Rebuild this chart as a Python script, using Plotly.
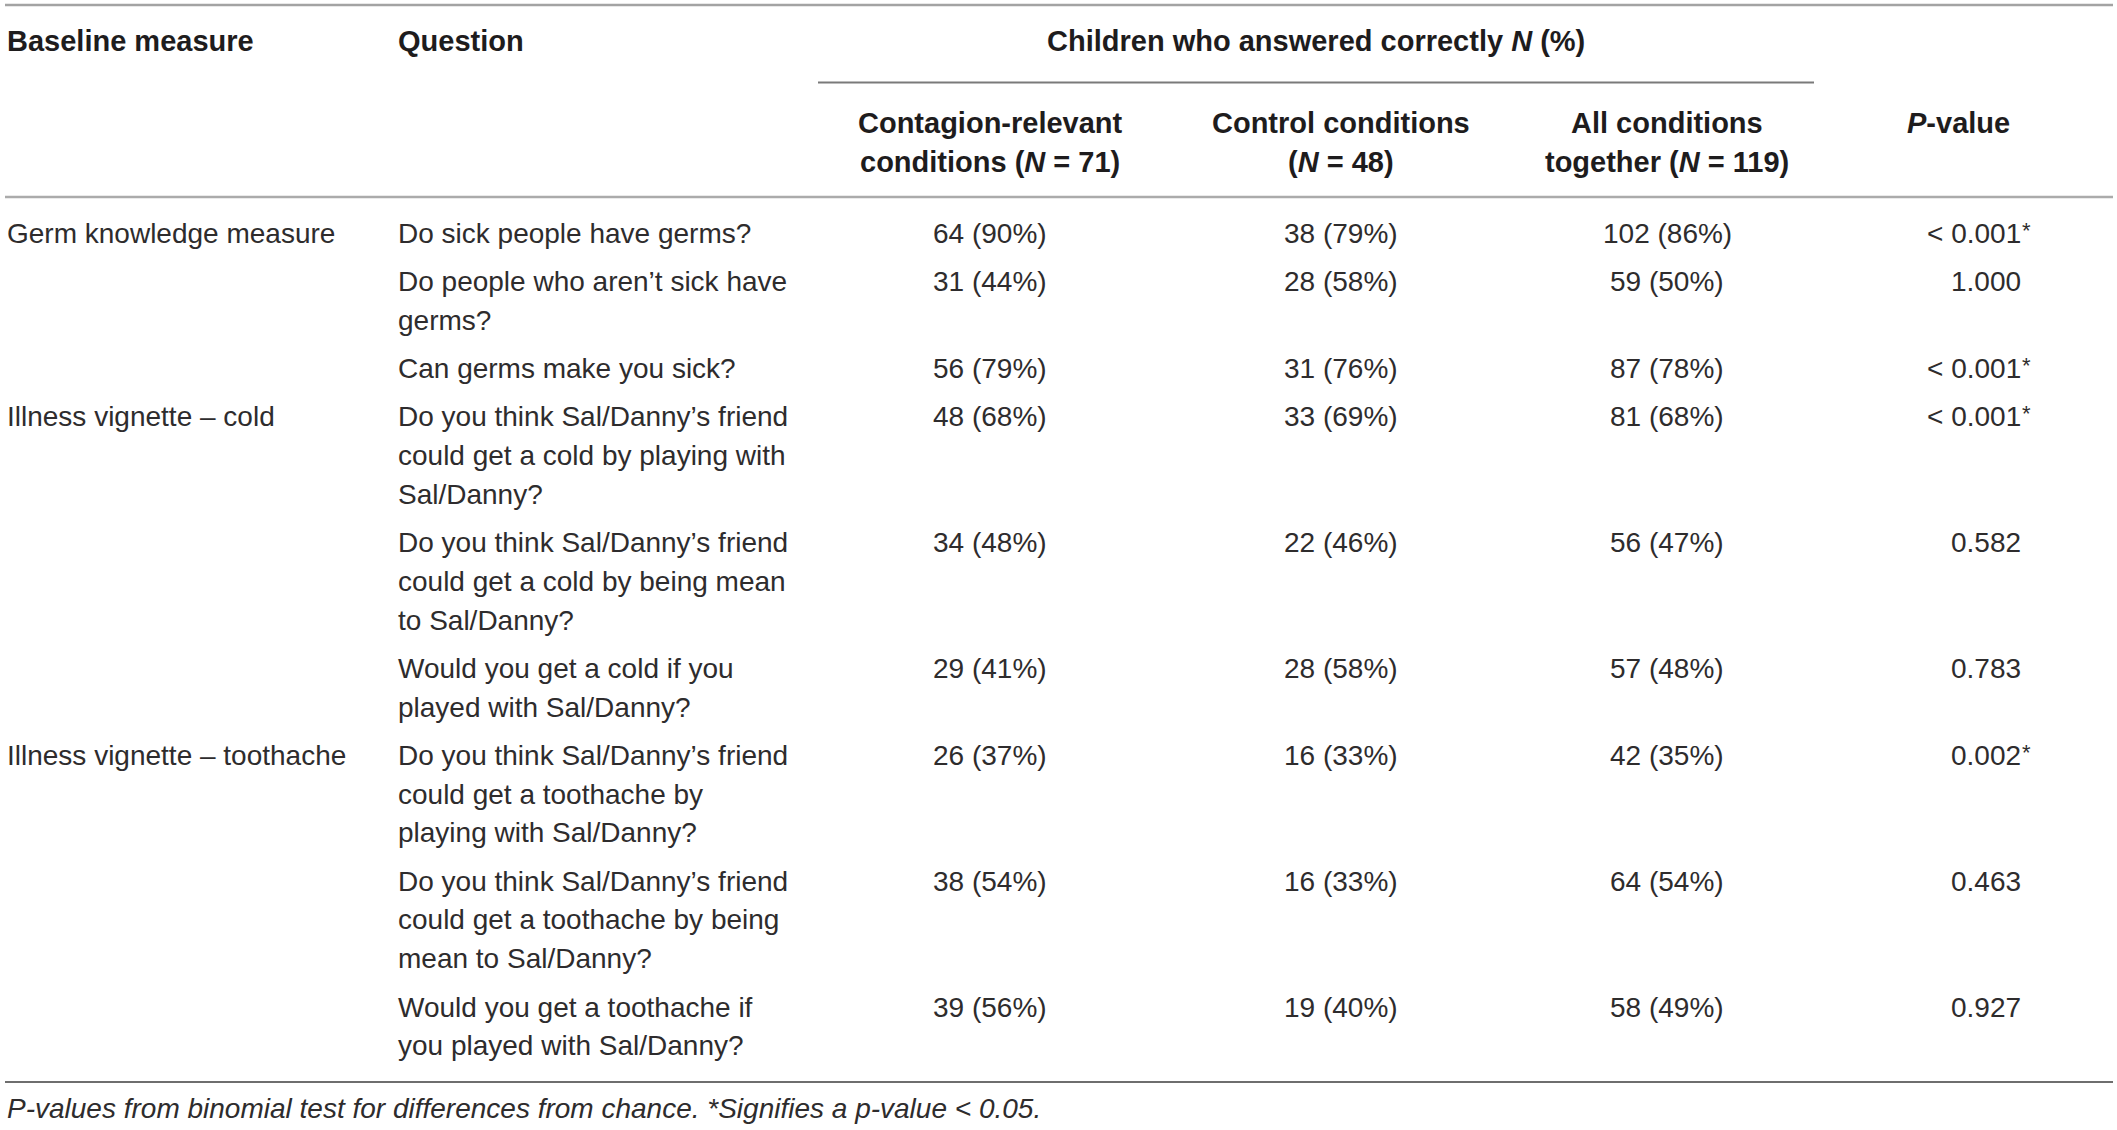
import plotly.graph_objects as go

# table content
measures = ["Germ knowledge measure", "", "", "Illness vignette – cold", "", "",
            "Illness vignette – toothache", "", ""]
questions = [
    "Do sick people have germs?",
    "Do people who aren’t sick have\ngerms?",
    "Can germs make you sick?",
    "Do you think Sal/Danny’s friend\ncould get a cold by playing with\nSal/Danny?",
    "Do you think Sal/Danny’s friend\ncould get a cold by being mean\nto Sal/Danny?",
    "Would you get a cold if you\nplayed with Sal/Danny?",
    "Do you think Sal/Danny’s friend\ncould get a toothache by\nplaying with Sal/Danny?",
    "Do you think Sal/Danny’s friend\ncould get a toothache by being\nmean to Sal/Danny?",
    "Would you get a toothache if\nyou played with Sal/Danny?",
]
contagion = ["64 (90%)", "31 (44%)", "56 (79%)", "48 (68%)", "34 (48%)", "29 (41%)",
             "26 (37%)", "38 (54%)", "39 (56%)"]
control = ["38 (79%)", "28 (58%)", "31 (76%)", "33 (69%)", "22 (46%)", "28 (58%)",
           "16 (33%)", "16 (33%)", "19 (40%)"]
all_conditions = ["102 (86%)", "59 (50%)", "87 (78%)", "81 (68%)", "56 (47%)", "57 (48%)",
                  "42 (35%)", "64 (54%)", "58 (49%)"]
p_values = ["< 0.001*", "1.000", "< 0.001*", "< 0.001*", "0.582", "0.783",
            "0.002*", "0.463", "0.927"]

header_top = ["Baseline measure", "Question", "Children who answered correctly <i>N</i> (%)"]
header_sub = [("Contagion-relevant", "conditions (<i>N</i> = 71)"),
              ("Control conditions", "(<i>N</i> = 48)"),
              ("All conditions", "together (<i>N</i> = 119)")]
header_p = "<i>P</i>-value"
footnote = ("P-values from binomial test for differences from chance. "
            "*Signifies a p-value &lt; 0.05.")

W, H = 2117, 1130
FONT = "Liberation Sans, Arial, Helvetica, sans-serif"
TXT = "#2e2c2d"
SIZE = 28
BOLD = 29
LINE = 38.67
GAP = 9.75
Y0 = 233

col_x = [5, 396, 990, 1341, 1667]
p_right = 2023
p_center = 1958

fig = go.Figure()
anns = []


def add(x, y, text, anchor="left", size=SIZE, color=TXT):
    anns.append(dict(x=x, y=y, xref="x", yref="y", text=text, showarrow=False,
                     xanchor=anchor, yanchor="middle", align=anchor,
                     font=dict(family=FONT, size=size, color=color)))


def bold(x, y, text, anchor="left"):
    add(x, y, "<b>" + text + "</b>", anchor, size=BOLD, color="#1e1c1d")


# header
bold(col_x[0], 41, header_top[0])
bold(col_x[1], 41, header_top[1])
bold(1316, 41, header_top[2], "center")
for i, (top, bottom) in enumerate(header_sub):
    bold(col_x[2 + i], 123, top, "center")
    bold(col_x[2 + i], 162, bottom, "center")
bold(p_center, 123, header_p, "center")

# body
y = Y0
for i in range(len(questions)):
    lines = questions[i].split("\n")
    if measures[i]:
        add(col_x[0], y, measures[i])
    for k, line in enumerate(lines):
        add(col_x[1], y + k * LINE, line)
    add(col_x[2], y, contagion[i], "center")
    add(col_x[3], y, control[i], "center")
    add(col_x[4], y, all_conditions[i], "center")
    pv = p_values[i]
    add(p_right, y, pv.rstrip("*"), "right")
    if pv.endswith("*"):
        add(p_right - 3, y - 3, "*", "left", size=22)
    y += len(lines) * LINE + GAP

add(col_x[0], 1108, "<i>" + footnote + "</i>")

# rules
shapes = [
    dict(type="line", x0=5, x1=2113, y0=5, y1=5, line=dict(color="#a3a3a3", width=2.5)),
    dict(type="line", x0=818, x1=1814, y0=82.5, y1=82.5, line=dict(color="#7a7a7a", width=2)),
    dict(type="line", x0=5, x1=2113, y0=197, y1=197, line=dict(color="#ababab", width=2.5)),
    dict(type="line", x0=5, x1=2113, y0=1082, y1=1082, line=dict(color="#6e6e6e", width=1.8)),
]
for s in shapes:
    s.update(xref="x", yref="y", layer="above")

fig.update_layout(
    width=W, height=H,
    margin=dict(l=0, r=0, t=0, b=0),
    paper_bgcolor="white", plot_bgcolor="white",
    xaxis=dict(range=[0, W], visible=False, fixedrange=True),
    yaxis=dict(range=[H, 0], visible=False, fixedrange=True),
    annotations=anns, shapes=shapes, showlegend=False,
)

fig.write_html("out.html", config={"displayModeBar": False},
               post_script="document.body.style.margin='0';document.body.style.overflow='hidden';")
